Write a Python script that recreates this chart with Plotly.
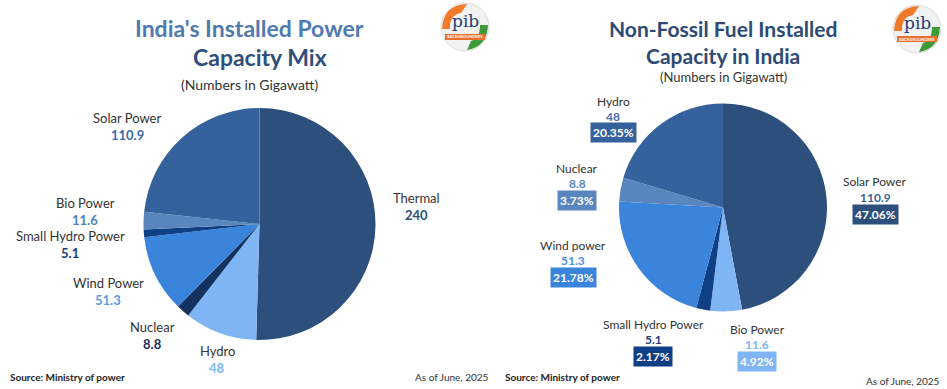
import plotly.graph_objects as go

W, H = 947, 389

# ---- Data ----
left_labels = ["Thermal", "Hydro", "Nuclear", "Wind Power", "Small Hydro Power", "Bio Power", "Solar Power"]
left_values = [240, 48, 8.8, 51.3, 5.1, 11.6, 110.9]
left_colors = ["#2c4f7c", "#80b5f5", "#13325f", "#3a84dc", "#0f3f85", "#5a86bf", "#35629c"]
left_value_colors = ["#2c4f7c", "#80b5f5", "#1a3060", "#5a9be8", "#1a3d7a", "#4a80c0", "#3a6aa8"]

right_labels = ["Solar Power", "Bio Power", "Small Hydro Power", "Wind power", "Nuclear", "Hydro"]
right_values = [110.9, 11.6, 5.1, 51.3, 8.8, 48]
right_pcts = ["47.06%", "4.92%", "2.17%", "21.78%", "3.73%", "20.35%"]
right_colors = ["#2c4f7c", "#80b5f5", "#0f3f85", "#3a84dc", "#5a86bf", "#35629c"]
right_value_colors = ["#3a5f92", "#80b5f5", "#1a3d7a", "#4a8ee0", "#5a86bf", "#4a70a8"]

# label anchor positions (pixels): (x, y of name line)
left_label_pos = [(416, 198), (217, 351), (152, 327), (108, 283), (70, 236), (85, 203), (127, 118)]
right_label_pos = [(875, 182), (757, 329), (653, 324), (573, 245), (577, 168), (613, 101)]

FONT = "Lato"


def px(x, y):
    return x / W, 1 - y / H


fig = go.Figure()

# left pie: center (259.5, 224), r 116
lx0, lx1 = (259.5 - 116) / W, (259.5 + 116) / W
ly0, ly1 = 1 - (224 + 116) / H, 1 - (224 - 116) / H
fig.add_trace(go.Pie(
    labels=left_labels, values=left_values, sort=False, direction="clockwise", rotation=0,
    marker=dict(colors=left_colors, line=dict(width=0)), textinfo="none", hoverinfo="label+value",
    domain=dict(x=[lx0, lx1], y=[ly0, ly1]), showlegend=False,
))

# right pie: center (723, 207.5), r 104
rx0, rx1 = (723 - 104) / W, (723 + 104) / W
ry0, ry1 = 1 - (207.5 + 104) / H, 1 - (207.5 - 104) / H
fig.add_trace(go.Pie(
    labels=right_labels, values=right_values, sort=False, direction="clockwise", rotation=0,
    marker=dict(colors=right_colors, line=dict(width=0)), textinfo="none", hoverinfo="label+value",
    domain=dict(x=[rx0, rx1], y=[ry0, ry1]), showlegend=False,
))

ann = []


def text(x, y, s, size=13, color="#333333", bold=False, bg=None, xanchor="center", family=FONT):
    xp, yp = px(x, y)
    if bold:
        s = "<b>" + s + "</b>"
    d = dict(x=xp, y=yp, xref="paper", yref="paper", text=s, showarrow=False,
             xanchor=xanchor, yanchor="middle", font=dict(size=size, color=color, family=family))
    if bg:
        d.update(bgcolor=bg, borderpad=2)
    ann.append(d)


# Titles
text(250, 28, "India's Installed Power", size=23, color="#4f7bb0", bold=True)
text(260, 57, "Capacity Mix", size=23, color="#2f4f7a", bold=True)
text(250, 84, "(Numbers in Gigawatt)", size=14, color="#333333")

text(723, 28, "Non-Fossil Fuel Installed", size=21, color="#2c4a75", bold=True)
text(723, 56, "Capacity in India", size=21, color="#2c4a75", bold=True)
text(723, 77, "(Numbers in Gigawatt)", size=13, color="#333333")

# Left labels
for name, val, (x, y), c in zip(left_labels, left_values, left_label_pos, left_value_colors):
    text(x, y, name, size=13, color="#333333")
    text(x, y + 17, f"{val:g}", size=13, color=c, bold=True)

# Right labels
for name, val, pct, (x, y), c, bg in zip(right_labels, right_values, right_pcts, right_label_pos,
                                          right_value_colors, right_colors):
    text(x, y, name, size=12, color="#333333")
    text(x, y + 15, f"{val:g}", size=12, color=c, bold=True)
    text(x, y + 32, pct, size=12, color="white", bold=True, bg=bg)

# Footers
text(8, 377, "Source: Ministry of power", size=10, color="#222222", bold=True, xanchor="left")
text(413, 377, "As of June, 2025", size=10, color="#333333", xanchor="left")
text(503, 377, "Source: Ministry of power", size=10, color="#222222", bold=True, xanchor="left")
text(942, 381, "As of June, 2025", size=10, color="#333333", xanchor="right")

# Logos
shapes = []
for cx, cy in [(465, 27), (917, 29)]:
    x0, y0 = px(cx - 24, cy - 24)
    x1, y1 = px(cx + 24, cy + 24)
    shapes.append(dict(type="circle", xref="paper", yref="paper", x0=x0, x1=x1, y0=y1, y1=y0,
                       fillcolor="#f2f2f2", line=dict(color="#dddddd", width=1)))
    shapes.append(dict(type="path", xref="paper", yref="paper",
                       path=f"M {px(cx-23,cy+2)[0]},{px(cx-23,cy+2)[1]} Q {px(cx-22,cy-22)[0]},{px(cx-22,cy-22)[1]} {px(cx+2,cy-23)[0]},{px(cx+2,cy-23)[1]} L {px(cx-4,cy-14)[0]},{px(cx-4,cy-14)[1]} Q {px(cx-16,cy-12)[0]},{px(cx-16,cy-12)[1]} {px(cx-15,cy+2)[0]},{px(cx-15,cy+2)[1]} Z",
                       fillcolor="#f07a2a", line=dict(width=0)))
    shapes.append(dict(type="path", xref="paper", yref="paper",
                       path=f"M {px(cx+23,cy-2)[0]},{px(cx+23,cy-2)[1]} Q {px(cx+22,cy+20)[0]},{px(cx+22,cy+20)[1]} {px(cx+2,cy+23)[0]},{px(cx+2,cy+23)[1]} L {px(cx+6,cy+14)[0]},{px(cx+6,cy+14)[1]} Q {px(cx+15,cy+12)[0]},{px(cx+15,cy+12)[1]} {px(cx+15,cy-2)[0]},{px(cx+15,cy-2)[1]} Z",
                       fillcolor="#3f9a3a", line=dict(width=0)))
    bx0, by0 = px(cx - 20, cy + 7)
    bx1, by1 = px(cx + 20, cy + 13)
    shapes.append(dict(type="rect", xref="paper", yref="paper", x0=bx0, x1=bx1, y0=by1, y1=by0,
                       fillcolor="#e8702a", line=dict(width=0)))
    text(cx, cy - 6, "pib", size=17, color="#1f3f74", family="DejaVu Serif")
    text(cx, cy + 10, "BACKGROUNDERS", size=4, color="white", bold=True)

fig.update_layout(
    width=W, height=H, margin=dict(l=0, r=0, t=0, b=0),
    paper_bgcolor="white", plot_bgcolor="white",
    annotations=ann, shapes=shapes, showlegend=False,
)

fig.write_html("out.html", config={"displayModeBar": False},
               post_script="document.body.style.margin='0';document.body.style.overflow='hidden';")
